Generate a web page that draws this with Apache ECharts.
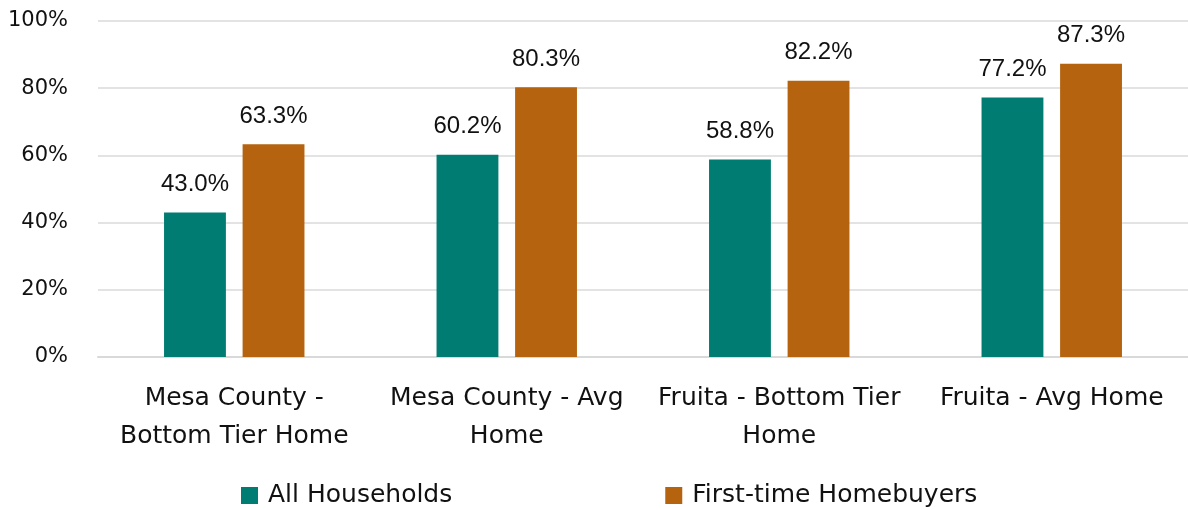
<!DOCTYPE html>
<html><head><meta charset="utf-8">
<script src="https://cdn.jsdelivr.net/npm/echarts@6/dist/echarts.min.js"></script>
<style>html,body{margin:0;padding:0;background:#fff}#c{width:1188px;height:510px}</style>
</head><body><div id="c"></div>
<script>
const categories = ["Mesa County -\nBottom Tier Home", "Mesa County - Avg\nHome", "Fruita - Bottom Tier\nHome", "Fruita - Avg Home"];
const allHouseholds = [43.0, 60.2, 58.8, 77.2];
const firstTime = [63.3, 80.3, 82.2, 87.3];
const seriesNames = ["All Households", "First-time Homebuyers"];
const yTicks = [0, 20, 40, 60, 80, 100];

const chart = echarts.init(document.getElementById('c'), null, {renderer: 'canvas'});
const font = '"DejaVu Sans", sans-serif';
const lbl = {show: true, position: 'top', distance: 16, color: '#111', fontSize: 24, fontFamily: '"Liberation Sans", Arial, sans-serif', formatter: p => p.value.toFixed(1) + '%'};
chart.setOption({
  animation: false,
  grid: {left: 98, right: 0, top: 21, bottom: 153},
  legend: {
    bottom: 2, left: 241, padding: 0, itemWidth: 17, itemHeight: 17, itemGap: 213, icon: 'rect',
    textStyle: {fontSize: 25, fontFamily: font, color: '#111', padding: [0, 0, 0, 5]},
    data: seriesNames
  },
  xAxis: {
    type: 'category', data: categories,
    axisLine: {lineStyle: {color: '#d9d9d9', width: 2}},
    axisTick: {show: false},
    axisLabel: {fontSize: 25, fontFamily: font, color: '#111', lineHeight: 38, margin: 22, interval: 0}
  },
  yAxis: {
    type: 'value', min: 0, max: 100, interval: 20,
    axisLabel: {fontSize: 21, fontFamily: font, color: '#111', margin: 30, formatter: v => yTicks.includes(v) ? v + '%' : ''},
    splitLine: {lineStyle: {color: '#e3e3e3', width: 2}},
    axisLine: {show: false}, axisTick: {show: false}
  },
  series: [
    {name: seriesNames[0], type: 'bar', data: allHouseholds, barWidth: '22.7%', barGap: '27%', itemStyle: {color: '#017C72'}, label: lbl},
    {name: seriesNames[1], type: 'bar', data: firstTime, barWidth: '22.7%', itemStyle: {color: '#B5630E'}, label: lbl}
  ]
});
</script></body></html>
